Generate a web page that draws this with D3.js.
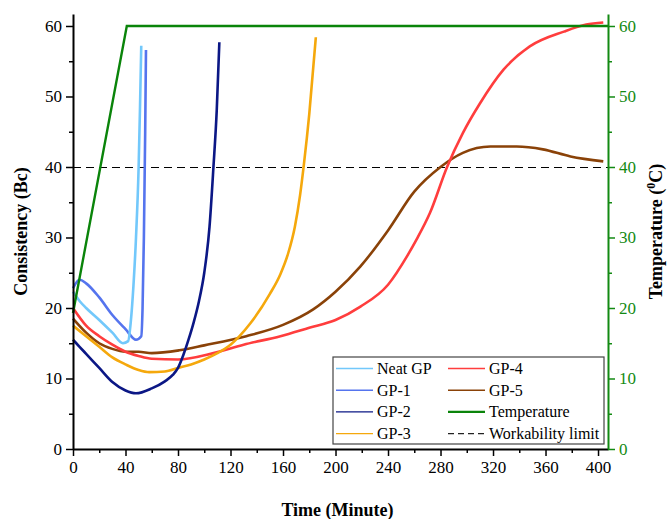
<!DOCTYPE html>
<html>
<head>
<meta charset="utf-8">
<script src="https://cdn.jsdelivr.net/npm/d3@7"></script>
<style>
	body { margin: 0; background: #fff; }
	svg text { font-family: "Liberation Serif", "Times New Roman", Times, "DejaVu Serif", serif; }
	.axis-title { font-weight: bold; font-size: 18px; }
</style>
</head>
<body>
<div id="chart"></div>
<script>
/* data: [minute, Bc] */
var neat_gp = [[0,22.3],[5,21],[10,20],[20,18.3],[30,16.5],[38,15],[42,15.3],[44,18],[46,23],[48,30],[50,40],[51,48],[52,57.2]];
var gp1 = [[0,22.8],[5,24],[10,23.5],[20,21.5],[30,19],[40,17],[48,15.5],[52,16],[53,20],[54,30],[55,45],[55.6,56.6]];
var gp2 = [[0,15.5],[5,14.5],[10,13.5],[20,11.5],[30,9.5],[40,8.3],[48,7.9],[60,8.6],[70,9.6],[76,10.5],[80,11.5],[84,13.3],[88,15.5],[92,18],[96,21],[100,25],[104,31.5],[107,40],[109.5,48],[111.5,57.7]];
var gp3 = [[0,17.5],[10,16],[20,14.5],[30,13],[40,12],[50,11.2],[58,10.9],[70,11],[80,11.5],[90,12],[100,12.7],[110,13.6],[120,14.8],[135,17.8],[150,22],[158,24.8],[164,27.8],[169,31.5],[173,36],[176,40.5],[180,47.5],[185,58.4]];
var gp4 = [[0,20],[10,17.5],[20,16],[30,14.8],[40,13.8],[50,13.2],[60,12.8],[80,12.7],[107,13.6],[130,14.8],[158,16],[180,17.2],[200,18.3],[219,20.2],[240,23.3],[255,27.5],[262,29.8],[272,33.5],[285,40],[297,44.8],[310,49],[328,53.8],[348,57.1],[374,59.2],[391,60.2],[404,60.5]];
var gp5 = [[0,18.5],[10,16.5],[20,15],[30,14.2],[40,13.8],[50,13.8],[60,13.6],[81,14],[100,14.7],[132,16],[160,17.6],[183,19.8],[200,22.3],[219,25.9],[240,31],[260,36.5],[280,40],[297,42],[318,42.9],[338,42.9],[358,42.5],[379,41.5],[404,40.8]];
var temperature = [[0,19.3],[41,60],[408,60]];
var workability_limit = 40;

var series_names = ['Neat GP', 'GP-1', 'GP-2', 'GP-3', 'GP-4', 'GP-5'];
var series_data = [neat_gp, gp1, gp2, gp3, gp4, gp5];
var series_colors = ['#72c8fb', '#5574ee', '#0b1785', '#f5a80c', '#ff3d3d', '#8a4208'];

var x_ticks = [0, 40, 80, 120, 160, 200, 240, 280, 320, 360, 400];
var y_ticks = [0, 10, 20, 30, 40, 50, 60];

// chart area
var width = 670;
var height = 519;
var margin = {top: 14, left: 73, bottom: 70, right: 62};
var g_width = width - margin.left - margin.right;
var g_height = height - margin.top - margin.bottom;
var serif = '"Liberation Serif", "Times New Roman", Times, "DejaVu Serif", serif';

var svg = d3.select('#chart').append('svg')
	.attr('width', width)
	.attr('height', height)
	.attr('font-family', serif);
var g = svg.append('g')
	.attr('transform', 'translate(' + margin.left + ',' + margin.top + ')');

var xScale = d3.scaleLinear().domain([0, 407.6]).range([0, g_width]);
var yScale = d3.scaleLinear().domain([0, 61.7]).range([g_height, 0]);
var tScale = d3.scaleLinear().domain([0, 61.7]).range([g_height, 0]);

var line = d3.line()
	.x(function (d) { return xScale(d[0]); })
	.y(function (d) { return yScale(d[1]); })
	.curve(d3.curveMonotoneX);

// workability limit
g.append('line')
 .attr('x1', xScale(0)).attr('x2', g_width)
 .attr('y1', Math.round(yScale(workability_limit)) + 0.5).attr('y2', Math.round(yScale(workability_limit)) + 0.5)
 .attr('stroke', '#000').attr('stroke-width', 1.2)
 .attr('stroke-dasharray', '8,5');

// consistency curves (drawn back to front)
var draw_order = [5, 4, 3, 1, 0, 2];
draw_order.forEach(function (i) {
	g.append('path')
	 .datum(series_data[i])
	 .attr('d', line)
	 .attr('fill', 'none')
	 .attr('stroke', series_colors[i])
	 .attr('stroke-width', 2.6)
	 .attr('stroke-linejoin', 'round');
});

// temperature
g.append('path')
 .datum(temperature)
 .attr('d', d3.line()
	.x(function (d) { return xScale(d[0]); })
	.y(function (d) { return tScale(d[1]); }))
 .attr('fill', 'none')
 .attr('stroke', '#0a840a')
 .attr('stroke-width', 2.4);

// axes
function style_axis(sel, color) {
	sel.attr('font-family', serif).attr('font-size', 17);
	sel.selectAll('path').attr('stroke', color).attr('stroke-width', 2);
	sel.selectAll('line').attr('stroke', color).attr('stroke-width', 1.5);
	sel.selectAll('text').attr('fill', color);
}

function minor_axis(axis, values) {
	return axis.tickValues(values).tickSize(4).tickFormat('');
}

var x_minor = d3.range(20, 408, 40);
var y_minor = d3.range(5, 61, 10);

var gx = g.append('g').attr('transform', 'translate(0,' + g_height + ')');
gx.call(d3.axisBottom(xScale).tickValues(x_ticks).tickSize(7).tickSizeOuter(0).tickPadding(5));
style_axis(gx, '#000');
var gxm = g.append('g').attr('transform', 'translate(0,' + g_height + ')');
gxm.call(minor_axis(d3.axisBottom(xScale), x_minor));
gxm.select('path').remove();
style_axis(gxm, '#000');

var gy = g.append('g');
gy.call(d3.axisLeft(yScale).tickValues(y_ticks).tickSize(7).tickSizeOuter(0).tickPadding(4));
style_axis(gy, '#000');
var gym = g.append('g');
gym.call(minor_axis(d3.axisLeft(yScale), y_minor));
gym.select('path').remove();
style_axis(gym, '#000');

var gr = g.append('g').attr('transform', 'translate(' + g_width + ',0)');
gr.call(d3.axisRight(tScale).tickValues(y_ticks).tickSize(7).tickSizeOuter(0).tickPadding(4));
style_axis(gr, '#138a13');
var grm = g.append('g').attr('transform', 'translate(' + g_width + ',0)');
grm.call(minor_axis(d3.axisRight(tScale), y_minor));
grm.select('path').remove();
style_axis(grm, '#138a13');

// axis titles
svg.append('text')
 .attr('class', 'axis-title')
 .attr('text-anchor', 'middle')
 .attr('x', margin.left + g_width / 2 - 3)
 .attr('y', 516)
 .text('Time (Minute)');
svg.append('text')
 .attr('class', 'axis-title')
 .attr('text-anchor', 'middle')
 .attr('transform', 'translate(27,' + (margin.top + g_height / 2) + ') rotate(-90)')
 .text('Consistency (Bc)');
var rt = svg.append('text')
 .attr('class', 'axis-title')
 .attr('text-anchor', 'middle')
 .attr('transform', 'translate(662,' + (margin.top + g_height / 2) + ') rotate(-90)');
rt.append('tspan').text('Temperature (');
rt.append('tspan').attr('dy', -7).style('font-size', '12px').text('0');
rt.append('tspan').attr('dy', 7).text('C)');

// legend
var legend_names = series_names.concat(['Temperature', 'Workability limit']);
var legend_colors = series_colors.concat(['#0a840a', '#222']);
var legend = svg.append('g').attr('transform', 'translate(333,357)');
legend.append('rect')
 .attr('width', 271).attr('height', 87)
 .attr('fill', '#fff')
 .attr('stroke', '#444').attr('stroke-width', 1.2);
legend_names.forEach(function (name, i) {
	var col = i < 4 ? 0 : 1;
	var row = i % 4;
	var lx = col == 0 ? 3 : 115;
	var ly = 11.5 + row * 21.7;
	legend.append('line')
	 .attr('x1', lx).attr('x2', lx + 37)
	 .attr('y1', ly).attr('y2', ly)
	 .attr('stroke', legend_colors[i])
	 .attr('stroke-width', i == 6 ? 2.4 : 1.4)
	 .attr('stroke-dasharray', i == 7 ? '6,4' : null);
	legend.append('text')
	 .attr('x', lx + 41)
	 .attr('y', ly + 5.5)
	 .attr('font-size', 16)
	 .text(name);
});
</script>
</body>
</html>
